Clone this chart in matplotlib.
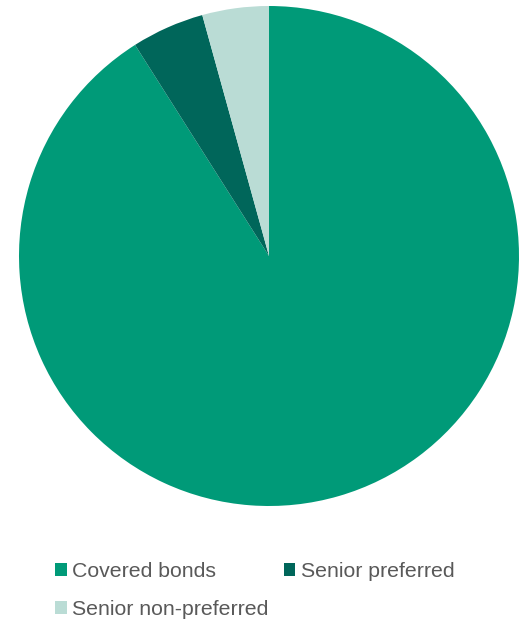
import matplotlib
matplotlib.use("Agg")
import matplotlib.pyplot as plt

plt.rcParams["font.family"] = ["Liberation Sans", "DejaVu Sans"]

LABELS = ["Covered bonds", "Senior preferred", "Senior non-preferred"]
SHARES = [91.0, 4.7, 4.3]  # % of issuance
COLORS = ["#009A78", "#00665A", "#BADCD5"]

W, H = 525, 621
fig = plt.figure(figsize=(W / 100, H / 100), dpi=100)

# pie: centre (269, 256) px, radius 250 px
cx, cy, r = 269, 256, 250
ax = fig.add_axes([(cx - r) / W, (H - cy - r) / H, 2 * r / W, 2 * r / H])
wedges, _ = ax.pie(SHARES, colors=COLORS, startangle=90, counterclock=False,
                   radius=1.0, wedgeprops=dict(linewidth=0))
ax.set_xlim(-1, 1)
ax.set_ylim(-1, 1)
ax.set_aspect("equal")
ax.axis("off")

# row-major legend: reorder so column fill reads Covered | Preferred / Non-preferred
order = [0, 2, 1]
leg = fig.legend([wedges[i] for i in order], [LABELS[i] for i in order],
                 loc="upper left", bbox_to_anchor=(55 / W, 1 - 562 / H),
                 ncol=2, frameon=False, fontsize=15.3, borderpad=0, borderaxespad=0,
                 handlelength=0.55, handleheight=0.55, handletextpad=0.25,
                 columnspacing=0.72, labelspacing=0.88)
for t in leg.get_texts():
    t.set_color("#595959")

fig.savefig("out.png", dpi=100)
